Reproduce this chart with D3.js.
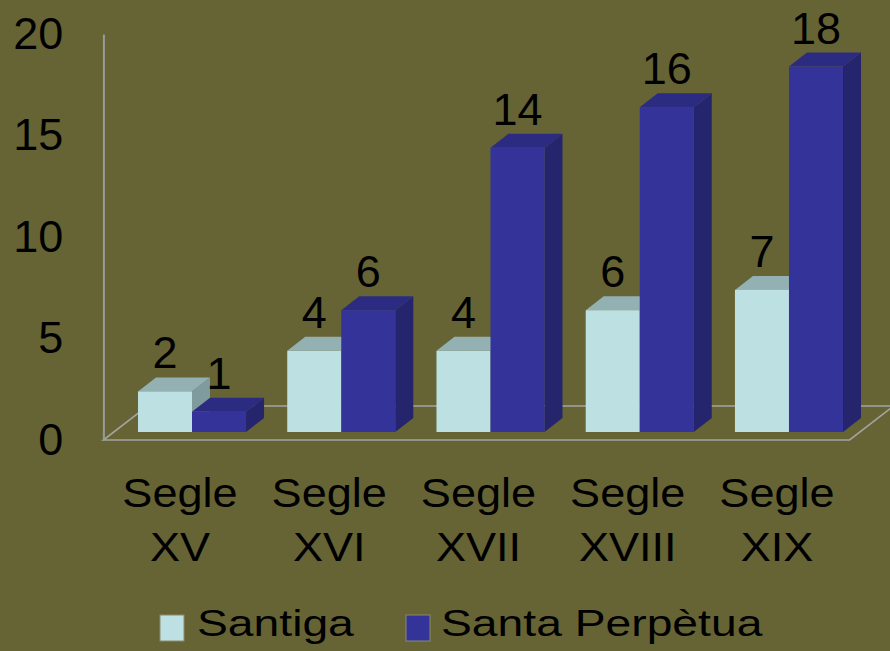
<!DOCTYPE html>
<html>
<head>
<meta charset="utf-8">
<script src="https://cdn.jsdelivr.net/npm/d3@7"></script>
<style>
  body { margin: 0; background: #666434; }
  svg { display: block; }
</style>
</head>
<body>
<div id="chart"></div>
<script>
(function(){
    var width = 890;
    var height = 651;

    // data
    var categories = ["Segle XV", "Segle XVI", "Segle XVII", "Segle XVIII", "Segle XIX"];
    var seriesNames = ["Santiga", "Santa Perpètua"];
    var santiga = [2, 4, 4, 6, 7];
    var perpetua = [1, 6, 14, 16, 18];
    var yTicks = [0, 5, 10, 15, 20];

    var colors = {
        front: ["#bde1e3", "#333399"],
        top:   ["#93b0b2", "#2b2b82"],
        side:  ["#7f9b9d", "#25256e"]
    };

    // 3d offsets
    var barDepth = [18, -14];
    var floorDepth = [44, -34];
    var barShift = [14, -8];

    var svg = d3.select("#chart")
        .append("svg")
            .attr("width", width)
            .attr("height", height)
            .style("font-family", '"Liberation Sans", Arial, sans-serif');

    var xScale = d3.scaleBand()
        .domain(categories)
        .range([117.4, 863.6])
        .paddingInner(0.276)
        .paddingOuter(0.138);

    var xSeries = d3.scaleBand()
        .domain(seriesNames)
        .range([0, xScale.bandwidth()]);

    // axis scale sits on the front edge of the floor, bars a bit deeper
    var yAxisScale = d3.scaleLinear()
        .domain([0, 20])
        .range([440, 34]);

    var yScale = d3.scaleLinear()
        .domain([0, 20])
        .range([440 + barShift[1], 34 + barShift[1]]);

    // floor
    var fx0 = xScale.range()[0] - barShift[0];
    var fx1 = xScale.range()[1] - barShift[0];
    var fy = yAxisScale(0);
    svg.append("path")
        .attr("d", "M" + fx0 + "," + fy +
            " L" + fx1 + "," + fy +
            " L" + (fx1 + floorDepth[0]) + "," + (fy + floorDepth[1]) +
            " L" + (fx0 + floorDepth[0]) + "," + (fy + floorDepth[1]) + " Z")
        .attr("fill", "none")
        .attr("stroke", "#a3a3a3")
        .attr("stroke-width", 1.6);

    // y axis
    var yAxis = d3.axisLeft(yAxisScale)
        .tickValues(yTicks)
        .tickSize(0)
        .tickPadding(40)
        .tickFormat(d3.format("d"));

    var yg = svg.append("g")
        .attr("class", "y axis")
        .attr("transform", "translate(" + fx0 + ",0)")
        .call(yAxis);

    yg.select(".domain")
        .attr("stroke", "#9a9a9a")
        .attr("stroke-width", 2);

    yg.selectAll(".tick text")
        .attr("font-size", "45px")
        .attr("fill", "#000");

    // bars
    var data = [];
    categories.forEach(function(c, i){
        data.push({cat: c, s: 0, value: santiga[i]});
        data.push({cat: c, s: 1, value: perpetua[i]});
    });

    var bars = svg.selectAll(".bar")
        .data(data)
        .enter()
        .append("g")
        .attr("class", "bar");

    function x0(d){ return xScale(d.cat) + xSeries(seriesNames[d.s]); }

    bars.append("path")
        .attr("d", function(d){
            var x1 = x0(d) + xSeries.bandwidth();
            var y0 = yScale(0), y1 = yScale(d.value);
            return "M" + x1 + "," + y0 + " L" + (x1 + barDepth[0]) + "," + (y0 + barDepth[1]) +
                " L" + (x1 + barDepth[0]) + "," + (y1 + barDepth[1]) + " L" + x1 + "," + y1 + " Z";
        })
        .attr("fill", function(d){ return colors.side[d.s]; });

    bars.append("path")
        .attr("d", function(d){
            var xa = x0(d), xb = xa + xSeries.bandwidth();
            var y1 = yScale(d.value);
            return "M" + xa + "," + y1 + " L" + (xa + barDepth[0]) + "," + (y1 + barDepth[1]) +
                " L" + (xb + barDepth[0]) + "," + (y1 + barDepth[1]) + " L" + xb + "," + y1 + " Z";
        })
        .attr("fill", function(d){ return colors.top[d.s]; });

    bars.append("rect")
        .attr("x", x0)
        .attr("y", function(d){ return yScale(d.value); })
        .attr("width", xSeries.bandwidth())
        .attr("height", function(d){ return yScale(0) - yScale(d.value); })
        .attr("fill", function(d){ return colors.front[d.s]; });

    bars.append("text")
        .attr("x", function(d){ return x0(d) + xSeries.bandwidth() / 2; })
        .attr("y", function(d){ return yScale(d.value) + barDepth[1] - 9; })
        .attr("text-anchor", "middle")
        .attr("font-size", "45px")
        .attr("fill", "#000")
        .text(function(d){ return d.value; });

    // category labels
    var catLabels = svg.selectAll(".cat")
        .data(categories)
        .enter()
        .append("text")
        .attr("class", "cat")
        .attr("transform", function(d){
            return "translate(" + (xScale(d) + xScale.bandwidth() / 2 - barShift[0] + 2) + ",507) scale(1.1,1)";
        })
        .attr("text-anchor", "middle")
        .attr("font-size", "41px")
        .attr("fill", "#000");

    catLabels.selectAll("tspan")
        .data(function(d){ return d.split(" "); })
        .enter()
        .append("tspan")
        .attr("x", 0)
        .attr("y", function(d, i){ return i * 54; })
        .text(function(d){ return d; });

    // legend
    var legendX = [160, 406];
    var legend = svg.selectAll(".legend")
        .data(seriesNames)
        .enter()
        .append("g")
        .attr("class", "legend")
        .attr("transform", function(d, i){ return "translate(" + legendX[i] + ",0)"; });

    legend.append("rect")
        .attr("x", 0)
        .attr("y", 615)
        .attr("width", 24)
        .attr("height", 26)
        .attr("fill", function(d, i){ return colors.front[i]; })
        .attr("stroke", "#8a8a6a")
        .attr("stroke-width", 1);

    legend.append("text")
        .attr("transform", function(d, i){ return "translate(" + (i == 0 ? 37 : 35) + ",636) scale(1.25,1)"; })
        .attr("font-size", "37px")
        .attr("fill", "#000")
        .text(function(d){ return d; });
})();
</script>
</body>
</html>
